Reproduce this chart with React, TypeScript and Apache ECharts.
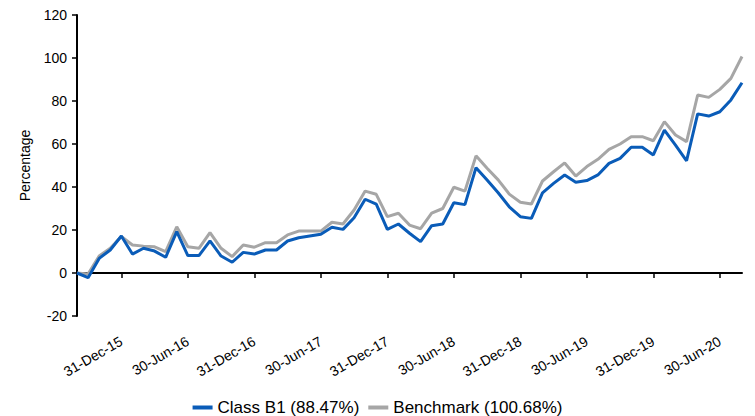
import React, { useEffect, useRef } from "react";
import * as echarts from "echarts";

const categories = [
  "31-Aug-15", "30-Sep-15", "31-Oct-15", "30-Nov-15", "31-Dec-15",
  "31-Jan-16", "29-Feb-16", "31-Mar-16", "30-Apr-16", "31-May-16", "30-Jun-16",
  "31-Jul-16", "31-Aug-16", "30-Sep-16", "31-Oct-16", "30-Nov-16", "31-Dec-16",
  "31-Jan-17", "28-Feb-17", "31-Mar-17", "30-Apr-17", "31-May-17", "30-Jun-17",
  "31-Jul-17", "31-Aug-17", "30-Sep-17", "31-Oct-17", "30-Nov-17", "31-Dec-17",
  "31-Jan-18", "28-Feb-18", "31-Mar-18", "30-Apr-18", "31-May-18", "30-Jun-18",
  "31-Jul-18", "31-Aug-18", "30-Sep-18", "31-Oct-18", "30-Nov-18", "31-Dec-18",
  "31-Jan-19", "28-Feb-19", "31-Mar-19", "30-Apr-19", "31-May-19", "30-Jun-19",
  "31-Jul-19", "31-Aug-19", "30-Sep-19", "31-Oct-19", "30-Nov-19", "31-Dec-19",
  "31-Jan-20", "29-Feb-20", "31-Mar-20", "30-Apr-20", "31-May-20", "30-Jun-20",
  "31-Jul-20", "31-Aug-20",
];

const classB1 = [
  0, -2.2, 6.8, 10.7, 17.2, 8.8, 11.5, 10.2, 7.3, 19.2,
  8.1, 8.1, 14.9, 7.9, 5.0, 9.6, 8.8, 10.7, 10.7, 14.9,
  16.4, 17.2, 18.0, 21.3, 20.3, 25.7, 34.3, 32.0, 20.3, 22.8,
  18.5, 14.6, 22.0, 22.8, 32.7, 31.8, 49.0, 43.3, 37.3, 30.8,
  26.2, 25.4, 37.3, 41.7, 45.6, 42.2, 43.0, 45.6, 51.0, 53.3,
  58.5, 58.5, 54.9, 66.5, 59.5, 52.2, 74.0, 73.0, 75.0, 80.5,
  88.47,
];

const benchmark = [
  0, -0.5, 7.9, 11.5, 17.0, 13.0, 12.5, 12.2, 9.9, 21.5,
  12.2, 11.5, 18.8, 11.5, 7.6, 13.0, 12.0, 14.1, 14.1, 17.7,
  19.5, 19.5, 19.5, 23.6, 22.8, 29.3, 38.1, 36.6, 26.2, 27.8,
  22.3, 20.6, 27.8, 30.0, 39.9, 38.1, 54.5, 48.7, 43.3, 36.7,
  32.9, 32.1, 42.8, 47.1, 51.2, 45.1, 49.5, 52.9, 57.5, 60.0,
  63.4, 63.4, 61.5, 70.4, 64.2, 61.1, 82.8, 81.7, 85.4, 90.5,
  100.68,
];

const seriesNames = ["Class B1 (88.47%)", "Benchmark (100.68%)"];
const yTitle = "Percentage";

export default function App() {
  const ref = useRef<HTMLDivElement>(null);
  useEffect(() => {
    if (!ref.current) return;
    const chart = echarts.init(ref.current, null, { renderer: "svg" });
    const font = "Liberation Sans, Arial, Helvetica, sans-serif";
    const showIdx = (i: number) => (i - 4) % 6 === 0 && i >= 4;
    chart.setOption({
      animation: false,
      textStyle: { fontFamily: font },
      grid: { left: 77, right: 13, top: 15, bottom: 100, containLabel: false, outerBoundsMode: "none" },
      legend: {
        data: seriesNames,
        top: 394,
        left: "center",
        icon: "rect",
        itemWidth: 20,
        itemHeight: 4,
        itemGap: 9,
        textStyle: { fontSize: 17, color: "#000", fontFamily: font },
      },
      xAxis: {
        type: "category",
        data: categories,
        boundaryGap: false,
        axisLine: { onZero: true, lineStyle: { color: "#000", width: 2 } },
        axisTick: { show: true, interval: (i: number) => showIdx(i), length: 5, lineStyle: { color: "#000", width: 1.5 } },
        axisLabel: {
          interval: (i: number) => showIdx(i),
          rotate: 30,
          margin: 24,
          fontSize: 14,
          color: "#000",
          fontFamily: font,
        },
        splitLine: { show: false },
      },
      yAxis: {
        type: "value",
        min: -20,
        max: 120,
        interval: 20,
        name: yTitle,
        nameLocation: "middle",
        nameGap: 45,
        nameTextStyle: { fontSize: 14, color: "#000", fontFamily: font },
        axisLine: { show: true, lineStyle: { color: "#000", width: 2 } },
        axisTick: { show: true, length: 5, lineStyle: { color: "#000", width: 1.5 } },
        axisLabel: { fontSize: 14, color: "#000", margin: 10, fontFamily: font },
        splitLine: { show: false },
      },
      series: [
        {
          name: seriesNames[0],
          type: "line",
          data: classB1,
          symbol: "none",
          z: 3,
          lineStyle: { color: "#0A5CB8", width: 3 },
          itemStyle: { color: "#0A5CB8" },
        },
        {
          name: seriesNames[1],
          type: "line",
          data: benchmark,
          symbol: "none",
          z: 2,
          lineStyle: { color: "#A6A6A6", width: 3 },
          itemStyle: { color: "#A6A6A6" },
        },
      ],
    });
    return () => chart.dispose();
  }, []);
  return (
    <div
      ref={ref}
      style={{ position: "fixed", left: 0, top: 0, width: 755, height: 416, background: "#fff" }}
    />
  );
}
